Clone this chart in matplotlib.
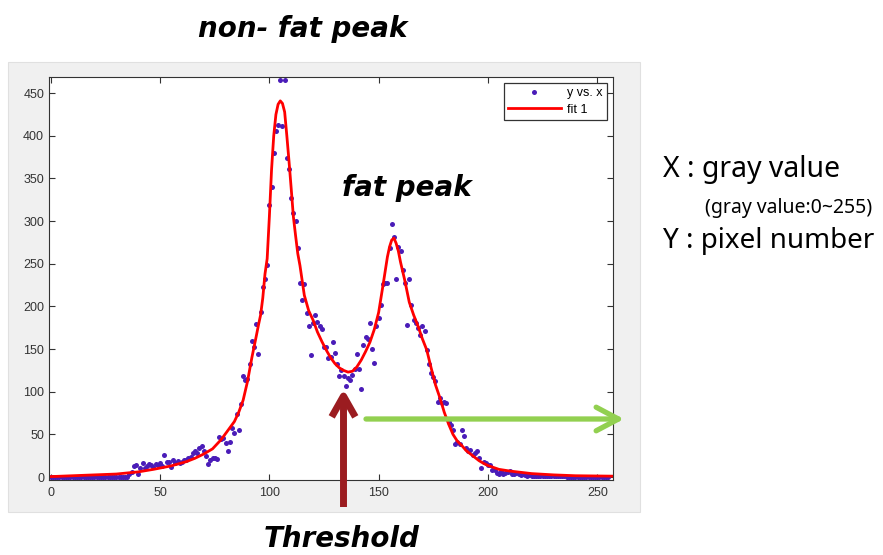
import matplotlib
matplotlib.use("Agg")
import matplotlib.pyplot as plt
from matplotlib.patches import Rectangle, FancyArrowPatch
import numpy as np

# histogram of gray values (x = 0..255)
gray = np.arange(256)
pixel_count = [
    0, 0, 0, 0, 0, 0, 0, 0, 0, 0, 0, 0, 0, 0, 0, 0, 0, 0, 0, 0,
    0, 0, 0, 0, 0, 0, 0, 0, 0, 0, 0, 0, 0, 0, 0, 0,
    3, 6, 13, 14, 4, 11, 17, 10, 13, 15, 14, 12, 15, 14,            # 36-49
    16, 13, 26, 18, 18, 12, 20, 17, 19, 17, 18, 20, 20, 22, 24,     # 50-64
    28, 30, 28, 34, 36, 30, 25, 15, 20, 22, 22, 21, 47, 45, 46,     # 65-79
    40, 31, 41, 57, 52, 74, 55, 86, 118, 114, 115, 133, 159, 152,   # 80-93
    179, 144, 193, 223, 232, 249, 319, 340, 380, 406, 413, 466,     # 94-105
    411, 466, 374, 361, 327, 309, 300, 269, 228, 207, 226, 192,     # 106-117
    177, 143, 181, 190, 182, 177, 173, 153, 152, 139, 141, 158,     # 118-129
    145, 133, 118, 126, 118, 107, 116, 114, 120, 127, 144, 127,     # 130-141
    103, 155, 164, 162, 180, 150, 134, 177, 186, 202, 226, 228,     # 142-153
    227, 268, 297, 281, 232, 270, 265, 243, 228, 178, 232, 202,     # 154-165
    184, 180, 175, 167, 177, 171, 149, 133, 122, 117, 112, 88,      # 166-177
    93, 87, 88, 87, 64, 61, 55, 39, 41, 39, 55, 48, 34, 30, 32,     # 178-192
    26, 28, 30, 22, 10, 18, 17, 14, 14, 8, 8, 5, 4, 7, 4, 5, 6,     # 193-209
    7, 4, 3, 5, 3, 2, 3, 2, 1, 2, 1,                                # 210-220
    1, 1, 1, 1, 1, 1, 1, 1, 1, 1, 1, 1, 1, 1, 1,                    # 221-235
    0, 0, 0, 0, 0, 0, 0, 0, 0, 0, 0, 0, 0, 0, 0, 0, 0, 0, 0, 0,     # 236-255
]

# fitted curve ("fit 1"), sampled from the red line
fit_x = [0, 10, 20, 30, 36, 40, 47, 55, 62, 66, 70, 74, 78, 80, 82, 84, 86, 88, 90, 92,
         94, 95, 96, 97, 98, 99, 100, 101, 102, 103, 104, 105, 106, 107, 108, 109, 110, 111, 112, 113,
         114, 116, 118, 120, 122, 124, 126, 128, 130, 132, 134, 136, 138, 140, 142, 144, 146, 148, 150, 152,
         154, 155, 156, 157, 158, 159, 160, 162, 164, 166, 168, 170, 172, 174, 176, 178, 180, 182, 184, 186,
         188, 190, 192, 194, 196, 198, 200, 205, 210, 215, 220, 230, 240, 257]
fit_y = [0.5, 1.5, 2.5, 3.5, 5, 6, 9, 13, 18, 22, 27, 33, 44, 51, 58, 65, 76, 90, 112, 140,
         165, 178, 190, 210, 238, 256, 305, 360, 400, 425, 437, 441, 438, 428, 400, 370, 338, 305, 283, 262,
         248, 213, 195, 184, 170, 159, 149, 140, 133, 128, 125, 123, 124, 129, 137, 147, 158, 173, 193, 225,
         258, 270, 278, 280, 274, 265, 252, 230, 205, 190, 177, 162, 149, 128, 108, 93, 76, 62, 50, 42,
         37, 31, 27, 23, 19, 16, 13.5, 9, 7, 5.5, 4, 2.5, 1.5, 1]

x_ticks = [0, 50, 100, 150, 200, 250]
y_ticks = [0, 50, 100, 150, 200, 250, 300, 350, 400, 450]

W, H = 883, 555


def fx(px):
    return px / W


def fy(py):
    return 1 - py / H


fig = plt.figure(figsize=(W / 100, H / 100), dpi=100)
fig.patch.set_facecolor('white')

# grey matlab figure panel
panel = Rectangle((fx(8), fy(512)), (640 - 8) / W, (512 - 62) / H, transform=fig.transFigure,
                  facecolor='#f0f0f0', edgecolor='#e0e0e0', lw=0.8, zorder=-5)
fig.patches.append(panel)

ax = fig.add_axes([fx(49), fy(480), 564 / W, 403 / H])
ax.set_zorder(2)
ax.set_facecolor('white')
ax.plot(gray, pixel_count, 'o', ms=3.6, color='#4a1cb8', mew=0, label='y vs. x')
ax.plot(fit_x, fit_y, '-', color='#ff0000', lw=2, label='fit 1')

ax.set_xlim(-0.8, 257.2)
ax.set_ylim(-3.5, 469)
ax.set_xticks(x_ticks)
ax.set_yticks(y_ticks)
tick_font = {'family': 'Liberation Sans', 'size': 9}
ax.set_xticklabels([str(t) for t in x_ticks], fontdict=tick_font)
ax.set_yticklabels([str(t) for t in y_ticks], fontdict=tick_font)
ax.tick_params(direction='in', length=4, width=0.8, top=True, right=True, colors='#333333')
ax.tick_params(axis='x', pad=5)
ax.tick_params(axis='y', pad=3.5)
for s in ax.spines.values():
    s.set_color('#333333')
    s.set_linewidth(0.8)

leg = ax.legend(loc='upper right', bbox_to_anchor=(0.989, 0.985), borderaxespad=0, numpoints=1,
                fancybox=False, framealpha=1, edgecolor='#333333', handlelength=4.2,
                labelspacing=0.35, borderpad=0.35, handletextpad=0.5,
                prop={'family': 'Liberation Sans', 'size': 9})
leg.get_frame().set_linewidth(0.9)

# annotations around the plot
big = dict(family='DejaVu Sans', weight='bold', style='italic', size=20, color='black', zorder=5)
fig.text(fx(303), fy(37), 'non- fat peak', ha='center', va='baseline', **big)
fig.text(fx(407), fy(196), 'fat peak', ha='center', va='baseline', **big)
fig.text(fx(342), fy(547), 'Threshold', ha='center', va='baseline', **big)

side = dict(family='Noto Sans', color='black')
fig.text(fx(663), fy(177), 'X : gray value', ha='left', va='baseline', size=20.5, **side)
fig.text(fx(705), fy(213), '(gray value:0~255)', ha='left', va='baseline', size=14, **side)
fig.text(fx(663), fy(248), 'Y : pixel number', ha='left', va='baseline', size=20, **side)

red_arrow = FancyArrowPatch((fx(343.5), fy(507)), (fx(343.5), fy(389)), transform=fig.transFigure,
                            arrowstyle='->,head_length=1.5,head_width=0.85', mutation_scale=10,
                            color='#9b1c20', lw=5, shrinkA=0, shrinkB=0, capstyle='butt', zorder=6)
fig.add_artist(red_arrow)
green_arrow = FancyArrowPatch((fx(366), fy(419)), (fx(624), fy(419)), transform=fig.transFigure,
                              arrowstyle='->,head_length=1.6,head_width=0.85', mutation_scale=10,
                              color='#92d050', lw=3.8, shrinkA=0, shrinkB=0, zorder=6)
fig.add_artist(green_arrow)

fig.savefig('out.png', dpi=100)
